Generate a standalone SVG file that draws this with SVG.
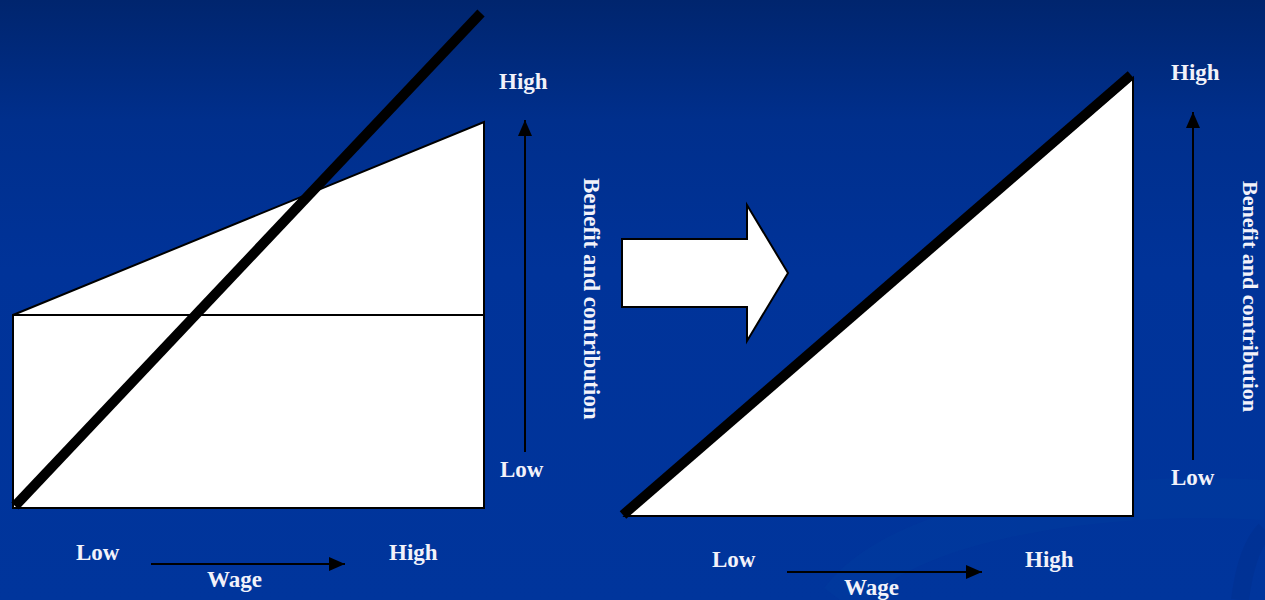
<svg xmlns="http://www.w3.org/2000/svg" width="1265" height="600" viewBox="0 0 1265 600">
<defs>
<linearGradient id="bg" x1="0" y1="0" x2="0" y2="1">
<stop offset="0" stop-color="#00256e"/>
<stop offset="0.2" stop-color="#002f8c"/>
<stop offset="0.45" stop-color="#003399"/>
<stop offset="1" stop-color="#00359c"/>
</linearGradient>
<marker id="ah" viewBox="0 0 16 14" refX="16" refY="7" markerWidth="16" markerHeight="14" markerUnits="userSpaceOnUse" orient="auto">
<path d="M0,0 L16,7 L0,14 Z" fill="#000"/>
</marker>
<style>
.lbl{font-family:"Liberation Serif","Times New Roman",serif;font-weight:bold;font-size:23px;fill:#f2f2fa}
.vert{font-size:22px}
.shape{fill:#fff;stroke:#000;stroke-width:2}
.thick{stroke:#000;stroke-width:10;fill:none}
.axis{stroke:#000;stroke-width:2;fill:none;marker-end:url(#ah)}
</style>
</defs>
<rect width="1265" height="600" fill="url(#bg)"/>
<g id="background-swoosh" fill="none" opacity="0.3">
<path d="M840,600 C900,520 1100,490 1265,500" stroke="#00409f" stroke-width="40"/>
<path d="M1240,600 C1245,560 1255,540 1265,530" stroke="#002c88" stroke-width="18"/>
</g>
<g id="left-chart">
<polygon class="shape" points="13,315 484,122 484,508 13,508"/>
<line x1="13" y1="315" x2="484" y2="315" stroke="#000" stroke-width="2"/>
<line class="thick" x1="15" y1="506" x2="481" y2="13"/>
</g>
<g id="block-arrow">
<polygon class="shape" points="622,239 747,239 747,205 788,273 747,341 747,307 622,307"/>
</g>
<g id="right-chart">
<polygon class="shape" points="625,516 1133,78 1133,516"/>
<line class="thick" x1="623" y1="515" x2="1131" y2="75"/>
</g>
<g id="connectors">
<line class="axis" x1="525" y1="452" x2="525" y2="120"/>
<line class="axis" x1="151" y1="564" x2="345" y2="564"/>
<line class="axis" x1="1193" y1="460" x2="1193" y2="112"/>
<line class="axis" x1="787" y1="572" x2="982" y2="572"/>
</g>
<g id="left-labels">
<text class="lbl" x="499" y="89">High</text>
<text class="lbl" x="500" y="477">Low</text>
<text class="lbl" x="76" y="560">Low</text>
<text class="lbl" x="389" y="560">High</text>
<text class="lbl" x="207" y="587">Wage</text>
<text class="lbl" transform="translate(584,178) rotate(90)">Benefit and contribution</text>
</g>
<g id="right-labels">
<text class="lbl" x="1171" y="80">High</text>
<text class="lbl" x="1171" y="485">Low</text>
<text class="lbl" x="712" y="567">Low</text>
<text class="lbl" x="1025" y="567">High</text>
<text class="lbl" x="844" y="595">Wage</text>
<text class="lbl vert" transform="translate(1243,181) rotate(90)">Benefit and contribution</text>
</g>
</svg>
